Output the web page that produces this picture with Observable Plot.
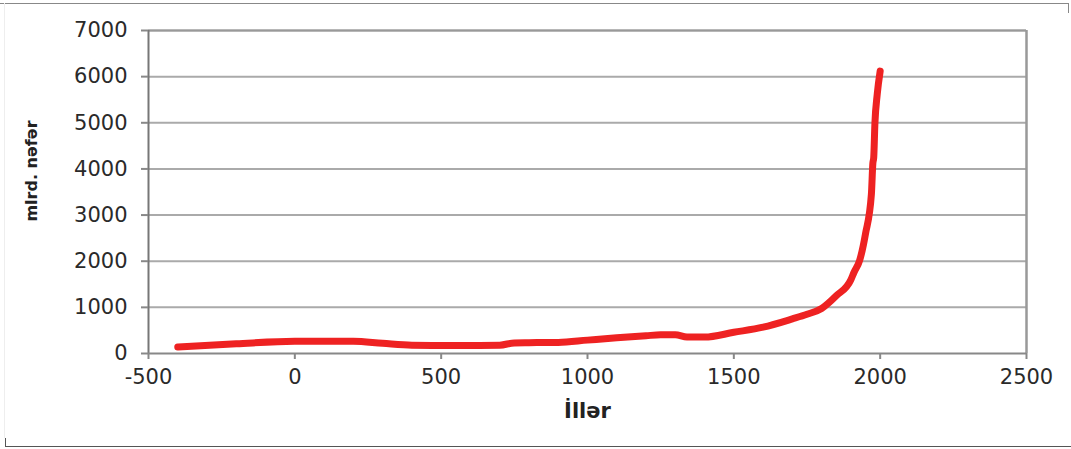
<!DOCTYPE html>
<html>
<head>
<meta charset="utf-8">
<script src="https://cdn.jsdelivr.net/npm/d3@7"></script>
<script src="https://cdn.jsdelivr.net/npm/@observablehq/plot@0.6"></script>
<style>
  html, body { margin: 0; padding: 0; background: white; }
  #wrap { position: relative; width: 1071px; height: 449px; overflow: hidden; }
  .ln { position: absolute; background: #888; }
</style>
</head>
<body>
<div id="wrap">
  <div id="chart"></div>
  <div class="ln" style="left:0;top:3px;width:1068px;height:1px;"></div>
  <div class="ln" style="left:1068px;top:3px;width:1px;height:10px;"></div>
  <div class="ln" style="left:4px;top:3px;width:1px;height:435px;background:#eee;"></div>
  <div class="ln" style="left:5px;top:438px;width:1px;height:8px;background:#555;"></div>
  <div class="ln" style="left:5px;top:446px;width:1066px;height:1px;background:#555;"></div>
</div>
<script>
const years = [-400, -200, 0, 200, 300, 400, 500, 600, 700, 750, 800, 900, 1000, 1100, 1200, 1250, 1300, 1340, 1400, 1500, 1600, 1700, 1750, 1800, 1850, 1900, 1910, 1930, 1950, 1970, 1975, 1978, 1982, 1990, 2000];
const population = [140, 210, 265, 265, 220, 180, 175, 175, 180, 230, 235, 240, 290, 340, 385, 405, 405, 355, 355, 460, 570, 750, 850, 975, 1250, 1600, 1750, 2020, 2600, 3450, 4120, 4250, 4980, 5620, 6120];
const xTicks = [-500, 0, 500, 1000, 1500, 2000, 2500];
const yTicks = [0, 1000, 2000, 3000, 4000, 5000, 6000, 7000];
const xLabel = "İllər";
const yLabel = "mlrd. nəfər";

const data = years.map((y, i) => ({year: y, pop: population[i]}));
const fmt = d => (d < 0 ? "-" + Math.abs(d) : String(d));

const chart = Plot.plot({
  width: 1071,
  height: 449,
  marginLeft: 148,
  marginRight: 45,
  marginTop: 30,
  marginBottom: 96,
  x: {domain: [-500, 2500]},
  y: {domain: [0, 7000]},
  style: {fontFamily: "DejaVu Sans", fontSize: "21px", color: "#333", background: "transparent"},
  marks: [
    Plot.ruleY(yTicks.slice(1), {stroke: "#aaa", strokeWidth: 2}),
    Plot.ruleY([7000], {stroke: "#999", strokeWidth: 2}),
    Plot.ruleX([2500], {stroke: "#999", strokeWidth: 2.5}),
    Plot.ruleX([-500], {stroke: "#777", strokeWidth: 2}),
    Plot.ruleY([0], {stroke: "#888", strokeWidth: 2}),
    Plot.axisY({ticks: yTicks, tickFormat: fmt, tickSize: 7, tickPadding: 14, label: null, stroke: "#888", strokeWidth: 2, fontSize: 21, letterSpacing: 1, fill: "#2a2a2a"}),
    Plot.axisX({ticks: xTicks, tickFormat: fmt, tickSize: 6, tickPadding: 10, label: null, stroke: "#888", strokeWidth: 2, fontSize: 21, letterSpacing: 1, fill: "#2a2a2a"}),
    Plot.line(data, {x: "year", y: "pop", stroke: "#ee2222", strokeWidth: 7, strokeLinecap: "round", strokeLinejoin: "round", curve: "monotone-x"}),
    Plot.text([xLabel], {frameAnchor: "bottom", text: d => d, dy: 64, fontWeight: "bold", fontSize: 21, fill: "#222", fontFamily: "DejaVu Sans"}),
    Plot.text([yLabel], {frameAnchor: "left", textAnchor: "middle", text: d => d, dx: -117, dy: -21, rotate: -90, fontWeight: "bold", fontSize: 16, letterSpacing: 0.3, fill: "#222", fontFamily: "DejaVu Sans"})
  ]
});
document.getElementById("chart").appendChild(chart);
</script>
</body>
</html>
